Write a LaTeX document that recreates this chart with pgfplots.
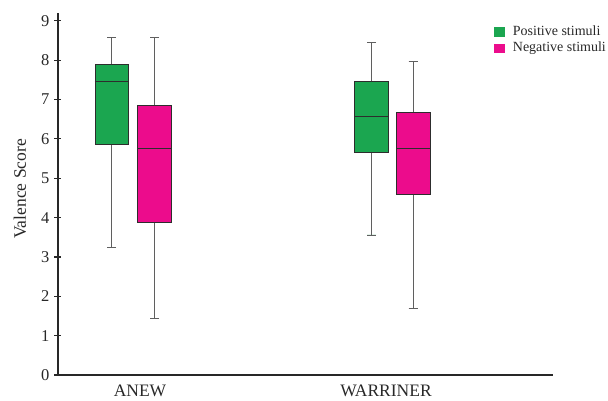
\documentclass[border=0pt]{standalone}
\usepackage{pgfplots}
\pgfplotsset{compat=1.18}
\usepgfplotslibrary{statistics}
\usepackage{fontspec}
\setmainfont{Liberation Serif}
\definecolor{posgreen}{RGB}{27,166,80}
\definecolor{negpink}{RGB}{236,12,140}
\definecolor{axisgray}{RGB}{40,40,40}
\definecolor{boxdark}{RGB}{45,45,45}
\definecolor{whiskgray}{RGB}{95,95,95}
\begin{document}
\begin{tikzpicture}[x=1pt,y=1pt]
\useasboundingbox (-58,-26) rectangle (550,375);
\begin{axis}[
  at={(0,0)}, anchor=south west,
  scale only axis, width=495pt, height=362pt,
  xmin=0, xmax=49.5, ymin=0, ymax=9.2,
  axis x line*=bottom, axis y line*=left,
  axis line style={-, line width=2.6pt, axisgray},
  ytick={0,1,...,9},
  xtick={8.2,32.8}, xticklabels={ANEW,WARRINER},
  x tick style={draw=none},
  y tick style={line width=1.1pt, axisgray},
  major tick length=7pt, tick align=center,
  /pgf/number format/assume math mode=true,
  yticklabel style={font=\fontsize{16.5}{17}\selectfont, text=axisgray, xshift=-1.5pt},
  xticklabel style={font=\fontsize{17.5}{18}\selectfont, text=axisgray, yshift=-3pt},
  ylabel={Valence Score},
  every axis y label/.style={at={(axis description cs:-0.0768,0.514)}, rotate=90, anchor=center, font=\fontsize{17.5}{18}\selectfont, text=axisgray},
  clip=false,
  boxplot/draw direction=y,
  boxplot/every box/.style={draw=boxdark, line width=0.9pt},
  boxplot/every median/.style={draw=boxdark, line width=0.9pt},
  boxplot/every whisker/.style={draw=whiskgray, line width=0.8pt},
  legend style={at={(axis description cs:0.8808,0.965)}, anchor=north west, draw=none, fill=none,
    inner sep=0pt, outer sep=0pt, row sep=3.3pt,
    nodes={inner sep=0pt, text height=10pt, text depth=3pt, font=\fontsize{14}{14}\selectfont, text=axisgray},
    /tikz/every odd column/.append style={column sep=8pt}},
  legend cell align=left,
]
\addplot+[forget plot, mark=none, fill=posgreen, draw=boxdark,
  boxplot prepared={draw position=5.35, lower whisker=3.25, lower quartile=5.87,
    median=7.46, upper quartile=7.88, upper whisker=8.57, box extend=3.3, whisker extend=0.9}]
  coordinates {};
\addplot+[forget plot, mark=none, fill=negpink, draw=boxdark,
  boxplot prepared={draw position=9.65, lower whisker=1.43, lower quartile=3.87,
    median=5.75, upper quartile=6.86, upper whisker=8.57, box extend=3.4, whisker extend=0.9}]
  coordinates {};
\addplot+[forget plot, mark=none, fill=posgreen, draw=boxdark,
  boxplot prepared={draw position=31.35, lower whisker=3.56, lower quartile=5.66,
    median=6.58, upper quartile=7.46, upper whisker=8.46, box extend=3.4, whisker extend=0.9}]
  coordinates {};
\addplot+[forget plot, mark=none, fill=negpink, draw=boxdark,
  boxplot prepared={draw position=35.5, lower whisker=1.70, lower quartile=4.58,
    median=5.75, upper quartile=6.67, upper whisker=7.97, box extend=3.4, whisker extend=0.9}]
  coordinates {};
\addlegendimage{legend image code/.code={\fill[posgreen] (0pt,-4pt) rectangle (10.5pt,4.5pt);}}
\addlegendentry{Positive stimuli}
\addlegendimage{legend image code/.code={\fill[negpink] (0pt,-4pt) rectangle (10.5pt,4.5pt);}}
\addlegendentry{Negative stimuli}
\end{axis}
\end{tikzpicture}
\end{document}
